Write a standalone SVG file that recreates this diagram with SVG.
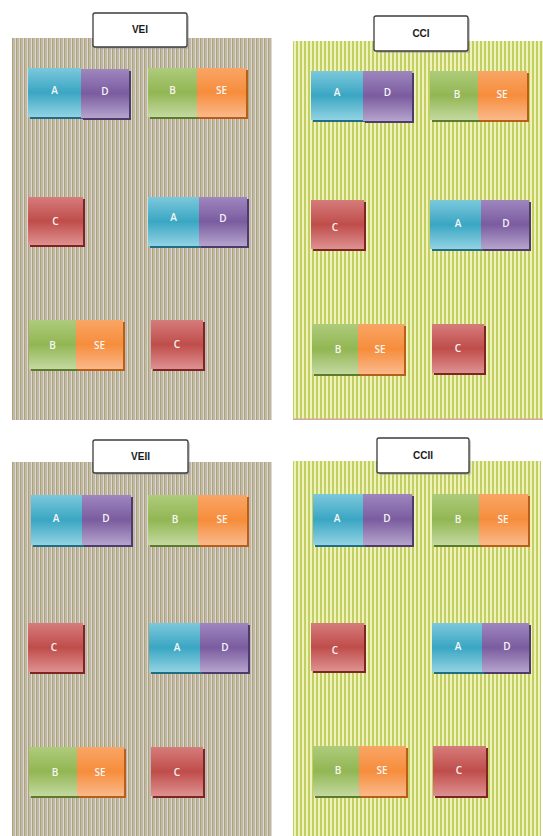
<svg xmlns="http://www.w3.org/2000/svg" width="543" height="836" viewBox="0 0 543 836">
<defs>
  <pattern id="stripeVE" patternUnits="userSpaceOnUse" width="4" height="10">
    <rect width="4" height="10" fill="#ddd8cc"/>
    <rect x="0" width="1.5" height="10" fill="#aca474"/>
    <rect x="1.5" width="1.5" height="10" fill="#bfb5ae"/>
  </pattern>
  <pattern id="stripeCC" patternUnits="userSpaceOnUse" width="4" height="10">
    <rect width="4" height="10" fill="#eef2bd"/>
    <rect x="0" width="2" height="10" fill="#c3cf60"/>
  </pattern>
  <linearGradient id="gA" x1="0" y1="0" x2="0" y2="1">
    <stop offset="0" stop-color="#7cc8dc"/><stop offset="0.5" stop-color="#3aa6c3"/><stop offset="1" stop-color="#92d3e3"/>
  </linearGradient>
  <linearGradient id="gD" x1="0" y1="0" x2="0" y2="1">
    <stop offset="0" stop-color="#9e86bf"/><stop offset="0.5" stop-color="#7a5c9f"/><stop offset="1" stop-color="#b5a4cd"/>
  </linearGradient>
  <linearGradient id="gB" x1="0" y1="0" x2="0" y2="1">
    <stop offset="0" stop-color="#aecb7b"/><stop offset="0.5" stop-color="#92b653"/><stop offset="1" stop-color="#c3d9a0"/>
  </linearGradient>
  <linearGradient id="gS" x1="0" y1="0" x2="0" y2="1">
    <stop offset="0" stop-color="#f9a565"/><stop offset="0.5" stop-color="#f68d3c"/><stop offset="1" stop-color="#fab98b"/>
  </linearGradient>
  <linearGradient id="gC" x1="0" y1="0" x2="0" y2="1">
    <stop offset="0" stop-color="#d57c7b"/><stop offset="0.5" stop-color="#bf4d4a"/><stop offset="1" stop-color="#de9191"/>
  </linearGradient>
</defs>
<style>
  .pVE{fill:url(#stripeVE)}
  .pCC{fill:url(#stripeCC)}
  .title rect.t{fill:#ffffff;stroke:#3c3c3c;stroke-width:1.3}
  .title rect.ts{fill:#9a9a9a;opacity:0.5}
  .title text{font-family:"Liberation Sans",Arial,sans-serif;font-weight:bold;font-size:10px;fill:#1a1a1a;text-anchor:middle}
  .lbl{font-family:"Open Sans","Liberation Sans",sans-serif;font-weight:600;font-size:10px;fill:#f6f6f6;text-anchor:middle}
  .A{fill:url(#gA)} .sA{fill:#1f6e85}
  .D{fill:url(#gD)} .sD{fill:#4f3a6c}
  .B{fill:url(#gB)} .sB{fill:#5e7a2c}
  .S{fill:url(#gS)} .sS{fill:#b85e16}
  .C{fill:url(#gC)} .sC{fill:#7e2523}
</style>

<!-- Panels -->
<g id="panel-VEI"><rect class="pVE" x="12" y="38" width="260" height="382"/></g>
<g id="panel-CCI"><rect class="pCC" x="293" y="41" width="250" height="379"/><rect x="293" y="418.5" width="250" height="1.5" fill="#d3a6a0"/></g>
<g id="panel-VEII"><rect class="pVE" x="12" y="462" width="260" height="374"/></g>
<g id="panel-CCII"><rect class="pCC" x="293" y="461" width="248" height="375"/></g>

<!-- Titles -->
<g id="title-VEI" class="title"><rect class="ts" x="95" y="15" width="94" height="34" rx="2"/><rect class="t" x="93" y="13" width="94" height="34" rx="2"/><text x="140" y="33">VEI</text></g>
<g id="title-CCI" class="title"><rect class="ts" x="376" y="18" width="94" height="35" rx="2"/><rect class="t" x="374" y="16" width="94" height="35" rx="2"/><text x="421" y="37">CCI</text></g>
<g id="title-VEII" class="title"><rect class="ts" x="95" y="442" width="95" height="33" rx="2"/><rect class="t" x="93" y="440" width="95" height="33" rx="2"/><text x="140.5" y="460">VEII</text></g>
<g id="title-CCII" class="title"><rect class="ts" x="379" y="440" width="92" height="35" rx="2"/><rect class="t" x="377" y="438" width="92" height="35" rx="2"/><text x="423" y="459">CCII</text></g>

<!-- VEI nodes -->
<g id="vei-A1"><rect class="sA" x="30" y="70" width="53" height="49"/><rect class="A" x="28" y="68" width="53" height="49"/><text class="lbl" x="54.5" y="94">A</text></g>
<g id="vei-D1"><rect class="sD" x="83" y="71" width="48" height="49"/><rect class="D" x="81" y="69" width="48" height="49"/><text class="lbl" x="105" y="95">D</text></g>
<g id="vei-B1"><rect class="sB" x="150" y="70" width="49" height="49"/><rect class="B" x="148" y="68" width="49" height="49"/><text class="lbl" x="172.5" y="94">B</text></g>
<g id="vei-SE1"><rect class="sS" x="199" y="70" width="49" height="49"/><rect class="S" x="197" y="68" width="49" height="49"/><text class="lbl" x="221.5" y="94">SE</text></g>
<g id="vei-C1"><rect class="sC" x="30" y="199" width="55" height="48"/><rect class="C" x="28" y="197" width="55" height="48"/><text class="lbl" x="55.5" y="225">C</text></g>
<g id="vei-A2"><rect class="sA" x="150" y="199" width="51" height="49"/><rect class="A" x="148" y="197" width="51" height="49"/><text class="lbl" x="173.5" y="221">A</text></g>
<g id="vei-D2"><rect class="sD" x="201" y="199" width="48" height="49"/><rect class="D" x="199" y="197" width="48" height="49"/><text class="lbl" x="223" y="222">D</text></g>
<g id="vei-B2"><rect class="sB" x="31" y="322" width="47" height="49"/><rect class="B" x="29" y="320" width="47" height="49"/><text class="lbl" x="52.5" y="349">B</text></g>
<g id="vei-SE2"><rect class="sS" x="78" y="322" width="47" height="49"/><rect class="S" x="76" y="320" width="47" height="49"/><text class="lbl" x="99.5" y="349">SE</text></g>
<g id="vei-C2"><rect class="sC" x="153" y="322" width="52" height="49"/><rect class="C" x="151" y="320" width="52" height="49"/><text class="lbl" x="177" y="348">C</text></g>

<!-- CCI nodes -->
<g id="cci-A1"><rect class="sA" x="313" y="73" width="52" height="49"/><rect class="A" x="311" y="71" width="52" height="49"/><text class="lbl" x="337" y="96">A</text></g>
<g id="cci-D1"><rect class="sD" x="365" y="73" width="49" height="50"/><rect class="D" x="363" y="71" width="49" height="50"/><text class="lbl" x="387.5" y="96">D</text></g>
<g id="cci-B1"><rect class="sB" x="432" y="73" width="48" height="49"/><rect class="B" x="430" y="71" width="48" height="49"/><text class="lbl" x="457" y="98">B</text></g>
<g id="cci-SE1"><rect class="sS" x="480" y="73" width="49" height="49"/><rect class="S" x="478" y="71" width="49" height="49"/><text class="lbl" x="502" y="98">SE</text></g>
<g id="cci-C1"><rect class="sC" x="313" y="202" width="53" height="49"/><rect class="C" x="311" y="200" width="53" height="49"/><text class="lbl" x="335" y="231">C</text></g>
<g id="cci-A2"><rect class="sA" x="432" y="202" width="51" height="49"/><rect class="A" x="430" y="200" width="51" height="49"/><text class="lbl" x="458" y="227">A</text></g>
<g id="cci-D2"><rect class="sD" x="483" y="202" width="48" height="49"/><rect class="D" x="481" y="200" width="48" height="49"/><text class="lbl" x="506" y="227">D</text></g>
<g id="cci-B2"><rect class="sB" x="314" y="326" width="46" height="50"/><rect class="B" x="312" y="324" width="46" height="50"/><text class="lbl" x="338" y="353">B</text></g>
<g id="cci-SE2"><rect class="sS" x="360" y="326" width="46" height="50"/><rect class="S" x="358" y="324" width="46" height="50"/><text class="lbl" x="380" y="353">SE</text></g>
<g id="cci-C2"><rect class="sC" x="434" y="326" width="52" height="49"/><rect class="C" x="432" y="324" width="52" height="49"/><text class="lbl" x="458" y="352">C</text></g>

<!-- VEII nodes -->
<g id="veii-A1"><rect class="sA" x="33" y="497" width="51" height="50"/><rect class="A" x="31" y="495" width="51" height="50"/><text class="lbl" x="56" y="522">A</text></g>
<g id="veii-D1"><rect class="sD" x="84" y="497" width="49" height="50"/><rect class="D" x="82" y="495" width="49" height="50"/><text class="lbl" x="106" y="522">D</text></g>
<g id="veii-B1"><rect class="sB" x="150" y="497" width="50" height="50"/><rect class="B" x="148" y="495" width="50" height="50"/><text class="lbl" x="175" y="523">B</text></g>
<g id="veii-SE1"><rect class="sS" x="200" y="497" width="49" height="50"/><rect class="S" x="198" y="495" width="49" height="50"/><text class="lbl" x="222" y="523">SE</text></g>
<g id="veii-C1"><rect class="sC" x="30" y="625" width="55" height="49"/><rect class="C" x="28" y="623" width="55" height="49"/><text class="lbl" x="54" y="651">C</text></g>
<g id="veii-A2"><rect class="sA" x="151" y="625" width="51" height="49"/><rect class="A" x="149" y="623" width="51" height="49"/><text class="lbl" x="177" y="651">A</text></g>
<g id="veii-D2"><rect class="sD" x="202" y="625" width="48" height="49"/><rect class="D" x="200" y="623" width="48" height="49"/><text class="lbl" x="225" y="651">D</text></g>
<g id="veii-B2"><rect class="sB" x="31" y="749" width="48" height="49"/><rect class="B" x="29" y="747" width="48" height="49"/><text class="lbl" x="55" y="776">B</text></g>
<g id="veii-SE2"><rect class="sS" x="79" y="749" width="47" height="49"/><rect class="S" x="77" y="747" width="47" height="49"/><text class="lbl" x="100" y="776">SE</text></g>
<g id="veii-C2"><rect class="sC" x="153" y="749" width="52" height="49"/><rect class="C" x="151" y="747" width="52" height="49"/><text class="lbl" x="177" y="776">C</text></g>

<!-- CCII nodes -->
<g id="ccii-A1"><rect class="sA" x="315" y="496" width="50" height="51"/><rect class="A" x="313" y="494" width="50" height="51"/><text class="lbl" x="337" y="522">A</text></g>
<g id="ccii-D1"><rect class="sD" x="365" y="496" width="49" height="51"/><rect class="D" x="363" y="494" width="49" height="51"/><text class="lbl" x="387" y="522">D</text></g>
<g id="ccii-B1"><rect class="sB" x="434" y="496" width="47" height="51"/><rect class="B" x="432" y="494" width="47" height="51"/><text class="lbl" x="458" y="523">B</text></g>
<g id="ccii-SE1"><rect class="sS" x="481" y="496" width="49" height="51"/><rect class="S" x="479" y="494" width="49" height="51"/><text class="lbl" x="503" y="523">SE</text></g>
<g id="ccii-C1"><rect class="sC" x="313" y="625" width="53" height="48"/><rect class="C" x="311" y="623" width="53" height="48"/><text class="lbl" x="335" y="654">C</text></g>
<g id="ccii-A2"><rect class="sA" x="434" y="625" width="50" height="49"/><rect class="A" x="432" y="623" width="50" height="49"/><text class="lbl" x="458" y="650">A</text></g>
<g id="ccii-D2"><rect class="sD" x="484" y="625" width="47" height="49"/><rect class="D" x="482" y="623" width="47" height="49"/><text class="lbl" x="507" y="650">D</text></g>
<g id="ccii-B2"><rect class="sB" x="315" y="748" width="46" height="50"/><rect class="B" x="313" y="746" width="46" height="50"/><text class="lbl" x="338" y="774">B</text></g>
<g id="ccii-SE2"><rect class="sS" x="361" y="748" width="47" height="50"/><rect class="S" x="359" y="746" width="47" height="50"/><text class="lbl" x="382" y="774">SE</text></g>
<g id="ccii-C2"><rect class="sC" x="435" y="748" width="53" height="50"/><rect class="C" x="433" y="746" width="53" height="50"/><text class="lbl" x="459" y="774">C</text></g>

<g id="connectors"></g>
</svg>
